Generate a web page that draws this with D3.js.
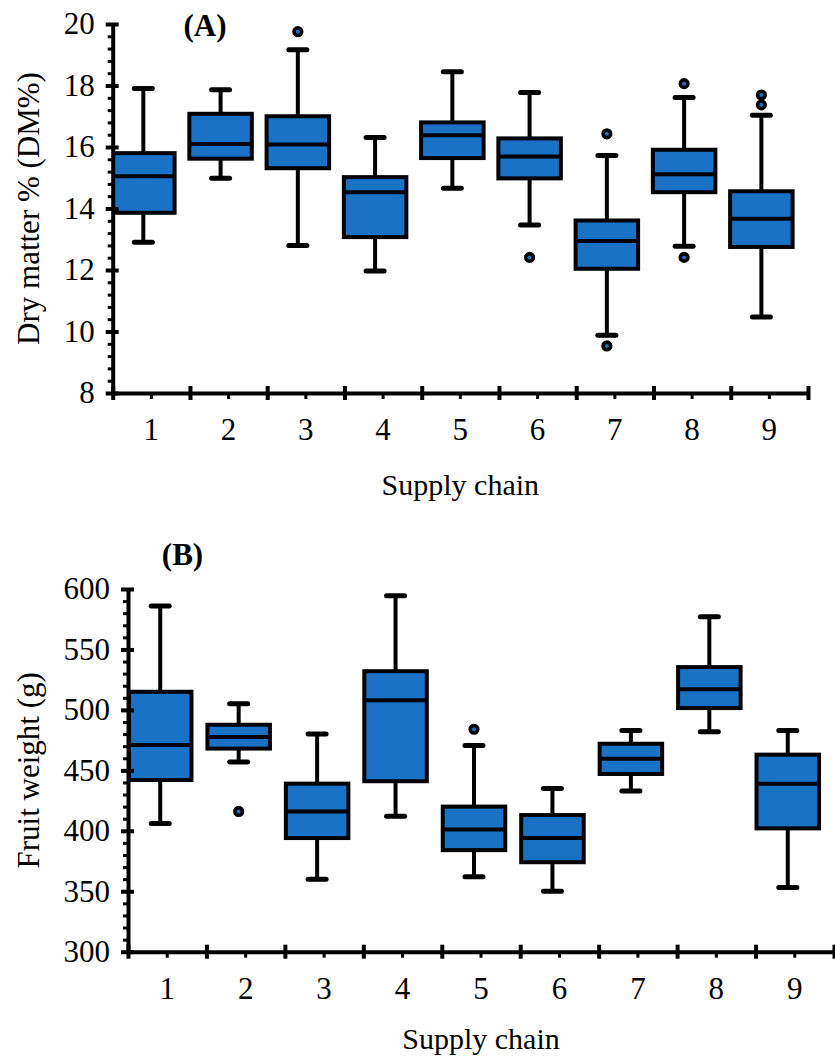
<!DOCTYPE html>
<html>
<head>
<meta charset="utf-8">
<script src="https://cdn.jsdelivr.net/npm/d3@7.9.0/dist/d3.min.js"></script>
<style>
  body { margin: 0; background: #fff; }
  svg { display: block; font-family: "Liberation Serif", "Times New Roman", serif; }
</style>
</head>
<body>
<div id="chart"></div>
<script>
// Supply chains (x categories)
const chains = ['1', '2', '3', '4', '5', '6', '7', '8', '9'];

// Panel A: dry matter % (DM%)
const dmMin    = [12.9, 14.98, 12.8, 11.97, 14.66, 13.46, 9.88, 12.77, 10.47];
const dmQ1     = [13.86, 15.62, 15.31, 13.07, 15.64, 14.98, 12.04, 14.53, 12.75];
const dmMedian = [15.05, 16.1, 16.08, 14.53, 16.38, 15.69, 12.94, 15.11, 13.67];
const dmQ3     = [15.8, 17.08, 17.0, 15.02, 16.8, 16.28, 13.61, 15.91, 14.56];
const dmMax    = [17.9, 17.86, 19.16, 16.31, 18.45, 17.77, 15.72, 17.61, 17.03];
const dmOutliers = [[], [], [19.75], [], [], [12.41], [16.43, 9.53], [18.06, 12.41], [17.69, 17.37]];
const dmTicks = [8, 10, 12, 14, 16, 18, 20];

// Panel B: fruit weight (g)
const fwMin    = [406, 457, 360, 412, 362, 350, 433, 482, 353];
const fwQ1     = [442, 468, 394, 441, 384, 374, 447, 501.5, 402];
const fwMedian = [471, 477.5, 416, 508, 401, 394, 459.5, 517, 439];
const fwQ3     = [515, 487.7, 439, 532, 420, 413, 472, 535.4, 463];
const fwMax    = [586, 505, 480, 594.5, 470.5, 435, 483, 577, 483];
const fwOutliers = [[], [416], [], [], [484], [], [], [], []];
const fwTicks = [300, 350, 400, 450, 500, 550, 600];

const width = 835;
const height = 1058;
const boxFill = '#1a72c6';

const svg = d3.select('#chart')
  .append('svg')
  .attr('width', width)
  .attr('height', height);

function drawPanel(opts) {
  const { id, left, right, top, bottom, domain, ticks, minorStep, data,
          yTitle, xTitleGap, label, labelX, labelY, shift } = opts;

  const x = d3.scaleBand().domain(chains).range([left, right]).padding(0);
  const xEdges = d3.scaleLinear().domain([0, chains.length]).range([left, right]);
  const y = d3.scaleLinear().domain(domain).range([bottom, top]);

  const g = svg.append('g');

  // clip so boxes do not cross the y axis
  g.append('clipPath')
    .attr('id', 'clip-' + id)
    .append('rect')
    .attr('x', left)
    .attr('y', 0)
    .attr('width', right - left)
    .attr('height', height);

  const boxes = g.append('g').attr('clip-path', `url(#clip-${id})`);
  const boxW = 62.5;
  const capW = 18;
  const cx = (d) => x(d.cat) + x.bandwidth() / 2 + shift;

  const rows = chains.map((cat, i) => ({
    cat,
    min: data.min[i],
    q1: data.q1[i],
    median: data.median[i],
    q3: data.q3[i],
    max: data.max[i],
    outliers: data.outliers[i],
  }));

  const box = boxes.selectAll('g.box')
    .data(rows)
    .join('g')
    .attr('class', 'box');

  // whisker stems
  box.append('line')
    .attr('x1', cx).attr('x2', cx)
    .attr('y1', d => y(d.max)).attr('y2', d => y(d.min))
    .attr('stroke', '#000').attr('stroke-width', 4);

  // whisker caps
  box.selectAll('line.cap')
    .data(d => [d.min, d.max].map(v => ({ v, d })))
    .join('line')
    .attr('class', 'cap')
    .attr('x1', e => cx(e.d) - capW / 2)
    .attr('x2', e => cx(e.d) + capW / 2)
    .attr('y1', e => y(e.v)).attr('y2', e => y(e.v))
    .attr('stroke', '#000').attr('stroke-width', 5)
    .attr('stroke-linecap', 'round');

  box.append('rect')
    .attr('x', d => cx(d) - boxW / 2)
    .attr('width', boxW)
    .attr('y', d => y(d.q3))
    .attr('height', d => y(d.q1) - y(d.q3))
    .attr('fill', boxFill)
    .attr('stroke', '#000')
    .attr('stroke-width', 4);

  box.append('line')
    .attr('x1', d => cx(d) - boxW / 2).attr('x2', d => cx(d) + boxW / 2)
    .attr('y1', d => y(d.median)).attr('y2', d => y(d.median))
    .attr('stroke', '#000').attr('stroke-width', 4);

  box.selectAll('circle')
    .data(d => d.outliers.map(v => ({ v, d })))
    .join('circle')
    .attr('cx', e => cx(e.d))
    .attr('cy', e => y(e.v))
    .attr('r', 3.8)
    .attr('fill', boxFill)
    .attr('stroke', '#000')
    .attr('stroke-width', 3.6);

  // y axis: minor ticks
  const minor = d3.range(domain[0], domain[1] + minorStep / 2, minorStep)
    .filter(v => !ticks.some(t => Math.abs(t - v) < 1e-6));
  g.append('g')
    .attr('transform', `translate(${left},0)`)
    .call(d3.axisLeft(y).tickValues(minor).tickSize(5).tickFormat(''))
    .call(a => a.select('.domain').remove())
    .call(a => a.selectAll('.tick line').attr('stroke-width', 3));

  // y axis: major ticks + labels
  g.append('g')
    .attr('transform', `translate(${left},0)`)
    .call(d3.axisLeft(y).tickValues(ticks).tickSize(7).tickSizeOuter(0))
    .call(a => a.select('.domain').attr('stroke-width', 4))
    .call(a => a.selectAll('.tick line').attr('x2', -7).attr('x1', 6).attr('stroke-width', 4))
    .call(a => a.selectAll('.tick text')
      .attr('x', -18).attr('dy', '0.32em')
      .attr('font-size', 31).attr('fill', '#000')
      .style('font-family', '"Liberation Serif", serif'));

  // x axis: minor ticks at chain centres, labels
  g.append('g')
    .attr('transform', `translate(0,${bottom})`)
    .call(d3.axisBottom(x).tickSize(6).tickSizeOuter(0))
    .call(a => a.select('.domain').remove())
    .call(a => a.selectAll('.tick line').attr('stroke-width', 3))
    .call(a => a.selectAll('.tick text')
      .attr('y', 47).attr('dy', 0)
      .attr('font-size', 31).attr('fill', '#000')
      .style('font-family', '"Liberation Serif", serif'));

  // x axis: major ticks at chain boundaries, crossing the axis line
  g.append('g')
    .attr('transform', `translate(0,${bottom})`)
    .call(d3.axisBottom(xEdges).ticks(chains.length).tickSize(7).tickSizeOuter(0).tickFormat(''))
    .call(a => a.select('.domain').attr('stroke-width', 4))
    .call(a => a.selectAll('.tick line').attr('y1', -7).attr('y2', 7).attr('stroke-width', 4));

  // axis titles
  g.append('text')
    .attr('transform', `translate(39,${(top + bottom) / 2}) rotate(-90)`)
    .attr('text-anchor', 'middle')
    .attr('font-size', 31)
    .text(yTitle);

  g.append('text')
    .attr('x', (left + right) / 2)
    .attr('y', bottom + xTitleGap)
    .attr('text-anchor', 'middle')
    .attr('font-size', 30)
    .text('Supply chain');

  g.append('text')
    .attr('x', labelX)
    .attr('y', labelY)
    .attr('text-anchor', 'middle')
    .attr('font-size', 31)
    .attr('font-weight', 'bold')
    .text(label);
}

drawPanel({
  id: 'a', left: 112.7, right: 808, top: 24, bottom: 393,
  domain: [8, 20], ticks: dmTicks, minorStep: 0.4,
  data: { min: dmMin, q1: dmQ1, median: dmMedian, q3: dmQ3, max: dmMax, outliers: dmOutliers },
  yTitle: 'Dry matter % (DM%)', xTitleGap: 102, label: '(A)', labelX: 205, labelY: 36, shift: -8,
});

drawPanel({
  id: 'b', left: 128, right: 834, top: 589, bottom: 951.7,
  domain: [300, 600], ticks: fwTicks, minorStep: 10,
  data: { min: fwMin, q1: fwQ1, median: fwMedian, q3: fwQ3, max: fwMax, outliers: fwOutliers },
  yTitle: 'Fruit weight (g)', xTitleGap: 97, label: '(B)', labelX: 182.5, labelY: 565, shift: -7,
});
</script>
</body>
</html>
